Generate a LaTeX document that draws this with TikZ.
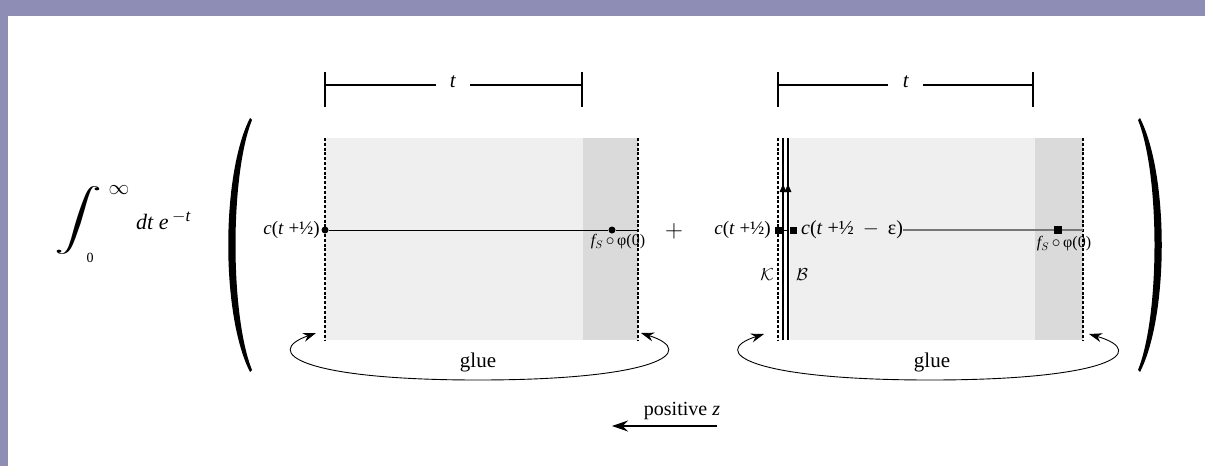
\documentclass[tikz,border=0pt]{standalone}
\usepackage{fontspec}
\setmainfont{Liberation Serif}
\usepackage{graphicx}
\usetikzlibrary{arrows.meta}
\definecolor{bordercol}{HTML}{8E8DB5}
\definecolor{lightgr}{HTML}{EFEFEF}
\definecolor{darkgr}{HTML}{DADADA}
\definecolor{linegr}{HTML}{777777}
\tikzset{
  txt/.style={inner sep=0pt, font=\fontsize{19}{22}\selectfont},
  smalltxt/.style={inner sep=0pt, font=\fontsize{16}{19}\selectfont},
  dashline/.style={line width=1.1pt, dash pattern=on 3pt off 1.8pt},
  solidline/.style={line width=1.1pt},
  barline/.style={line width=1.2pt},
  dotc/.style={circle, fill, inner sep=0pt, minimum size=7pt},
  sqdot/.style={rectangle, fill, inner sep=0pt, minimum size=7pt},
  gluearc/.style={line width=0.9pt, {Stealth[length=13pt,width=9pt]}-{Stealth[length=13pt,width=9pt]}},
}
\begin{document}
\begin{tikzpicture}[x=1pt,y=-1pt]
\useasboundingbox (0,0) rectangle (1205,466);
\fill[white] (0,0) rectangle (1205,466);
\fill[bordercol] (0,0) rectangle (1205,16);
\fill[bordercol] (0,0) rectangle (8,466);

% integral
\node[inner sep=0pt] (int) at (78,221) {\resizebox*{48pt}{68pt}{$\displaystyle\int$}};
\node[smalltxt, font=\fontsize{21}{22}\selectfont] (inf) at (119,190) {$\infty$};
\node[smalltxt, font=\fontsize{14}{16}\selectfont] (zero) at (90,258) {0};
\node[txt, anchor=west, font=\fontsize{22}{24}\selectfont] (dt) at (136,221) {\textit{dt e}\,\raisebox{8pt}{\fontsize{17}{20}\selectfont$-$\textit{t}}};

% parentheses
\fill (250,118) .. controls (221,175) and (221,315) .. (250,372) -- (252,370) .. controls (230,315) and (230,175) .. (252,120) -- cycle;
\fill (1140,118) .. controls (1169,175) and (1169,315) .. (1140,372) -- (1138,370) .. controls (1160,315) and (1160,175) .. (1138,120) -- cycle;

% left box
\fill[lightgr] (325,138) rectangle (583,340);
\fill[darkgr] (583,138) rectangle (638,340);
\draw[dashline] (325,138) -- (325,340);
\draw[dashline] (638,138) -- (638,340);

% left bracket
\node[txt, font=\fontsize{21}{24}\selectfont] (tl) at (453,82) {\textit{t}};
\draw[barline] (325,85) -- (436,85);
\draw[barline] (470,85) -- (582,85);
\draw[barline] (325,72) -- (325,107);
\draw[barline] (582,72) -- (582,107);

% left line
\node[dotc] (dl1) at (325,230) {};
\node[dotc] (dl2) at (612,230) {};
\coordinate (el) at (637,230);
\draw[line width=1pt] (dl1) -- (dl2) -- (el);
\node[txt, anchor=east] (cl) at (320,230) {\textit{c}(\textit{t} +½)};
\node[smalltxt] (fl) at (618,242) {\textit{f}$_{\!S}$\,$\circ$\,φ(0)};

% plus
\node[txt, font=\fontsize{28}{30}\selectfont] (plus) at (674,231) {$+$};

% right box
\fill[lightgr] (790,138) rectangle (1035,340);
\fill[darkgr] (1035,138) rectangle (1083,340);
\draw[dashline] (778,138) -- (778,340);
\draw[dashline] (1083,138) -- (1083,340);
\draw[solidline] (783,138) -- (783,340);
\draw[solidline] (788,138) -- (788,340);
\draw[line width=0.5pt, -{Latex[length=9pt,width=7pt]}] (783,205) -- (783,183);
\draw[line width=0.5pt, -{Latex[length=9pt,width=7pt]}] (788,205) -- (788,183);

% right bracket
\node[txt, font=\fontsize{21}{24}\selectfont] (tr) at (906,82) {\textit{t}};
\draw[barline] (778,85) -- (888,85);
\draw[barline] (923,85) -- (1033,85);
\draw[barline] (778,72) -- (778,107);
\draw[barline] (1033,72) -- (1033,107);

% right line
\node[sqdot] (dr1) at (778,230) {};
\node[sqdot] (dr2) at (793,230) {};
\draw[line width=1pt] (dr1) -- (dr2);
\node[txt, anchor=east] (cr) at (771,230) {\textit{c}(\textit{t} +½)};
\node[txt, anchor=west, font=\fontsize{20}{22}\selectfont] (ce) at (801,230) {\textit{c}(\textit{t} +½\;\,$-$\;\,ε)};
\node[sqdot, minimum size=8pt] (dr3) at (1058,230) {};
\coordinate (er) at (1083,230);
\draw[linegr, line width=1.2pt] (ce.east) -- (dr3) -- (er);
\node[smalltxt] (fr) at (1064,244) {\textit{f}$_{\!S}$\,$\circ$\,φ(0)};

\node[txt] (K) at (767,275) {$\mathcal{K}$};
\node[txt] (B) at (802,275) {$\mathcal{B}$};

% glue arcs
\coordinate (gl1) at (316,333);
\coordinate (gl2) at (641,333);
\draw[gluearc] (gl1) .. controls (262,352) and (300,380) .. (478,380) .. controls (656,380) and (700,352) .. (gl2);
\node[txt, font=\fontsize{21}{24}\selectfont] (gluel) at (478,362) {glue};
\coordinate (gr1) at (764,334);
\coordinate (gr2) at (1089,334);
\draw[gluearc] (gr1) .. controls (708,352) and (750,380) .. (930,380) .. controls (1110,380) and (1150,352) .. (gr2);
\node[txt, font=\fontsize{21}{24}\selectfont] (gluer) at (932,362) {glue};

% positive z
\node[txt, font=\fontsize{20}{22}\selectfont] (pz) at (682,411) {positive \textit{z}};
\coordinate (pzA) at (717,426);
\coordinate (pzB) at (612,426);
\draw[line width=1.1pt, -{Stealth[length=16pt,width=11pt]}] (pzA) -- (pzB);
\end{tikzpicture}
\end{document}
